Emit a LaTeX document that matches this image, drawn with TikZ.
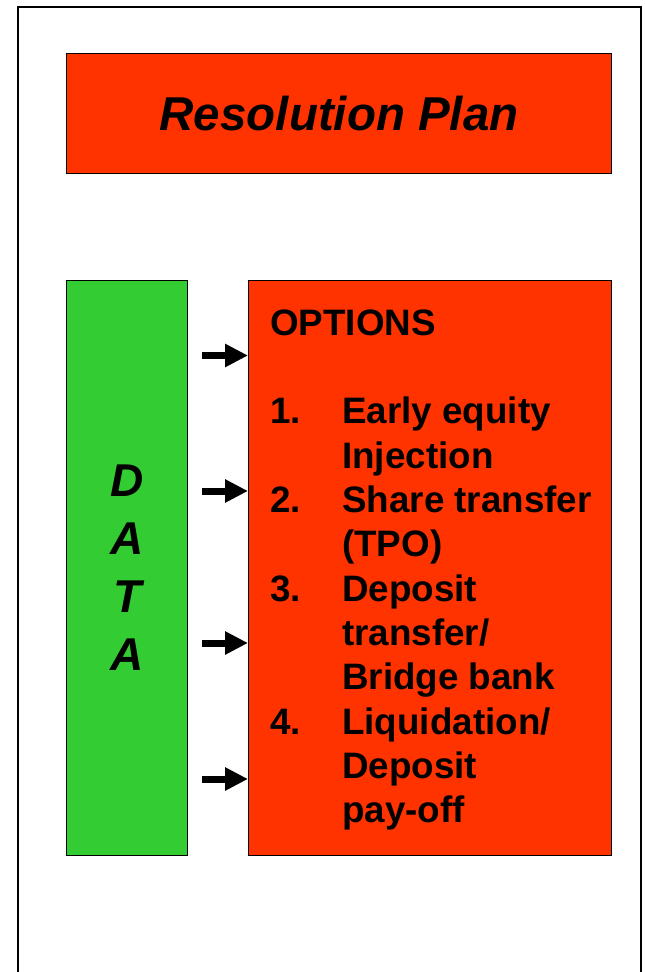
\documentclass[tikz,border=0pt]{standalone}
\usepackage{fontspec}
\setmainfont{Liberation Sans}
\usetikzlibrary{arrows.meta,positioning}
\definecolor{planred}{HTML}{FF3300}
\definecolor{datagreen}{HTML}{33CC33}

\begin{document}
\begin{tikzpicture}[x=1pt,y=-1pt,
  box/.style={draw=black,line width=1.3pt,inner sep=0pt},
  optline/.style={font=\bfseries\fontsize{36.8}{44}\selectfont,anchor=base west,inner sep=0pt},
  feed/.style={-{Triangle[length=23pt,width=22pt]},line width=7pt}]
  \useasboundingbox (0,0) rectangle (645,972);
  % page frame, open at the bottom
  \draw[line width=1.5pt] (18,990) -- (18,7) -- (641,7) -- (641,990);
  \node[box,fill=planred,anchor=north west,minimum width=545pt,minimum height=120pt] (plan) at (66,53)
    {\bfseries\itshape\fontsize{47.5}{57}\selectfont Resolution Plan};
  \node[box,fill=datagreen,anchor=north west,minimum width=121pt,minimum height=575pt] (data) at (66,280) {};
  \node[box,fill=planred,minimum width=363pt,minimum height=575pt,right=59.7pt of data] (opts) {};
  \node[align=center,font=\bfseries\itshape\fontsize{46}{58}\selectfont] (letters) at (data.center) {D\\A\\T\\A};
  % options list
  \node[optline] (head) at (270,335) {OPTIONS};
  \foreach \row/\num in {2/1.,4/2.,6/3.,9/4.}
    \node[optline] (num\row) at (270,{335+\row*44.36}) {\num};
  \foreach \row/\txt in {2/Early equity,3/Injection,4/Share transfer,5/(TPO),6/Deposit,
      7/{transfer/},8/Bridge bank,9/{Liquidation/},10/Deposit,11/pay-off}
    \node[optline] (txt\row) at (342,{335+\row*44.36}) {\txt};
  % arrows into the options box
  \foreach \y [count=\i] in {355.5,491,643,779} {
    \coordinate (src\i) at (202,\y);
    \draw[feed] (src\i) -- (src\i -| opts.west);
  }
\end{tikzpicture}
\end{document}
